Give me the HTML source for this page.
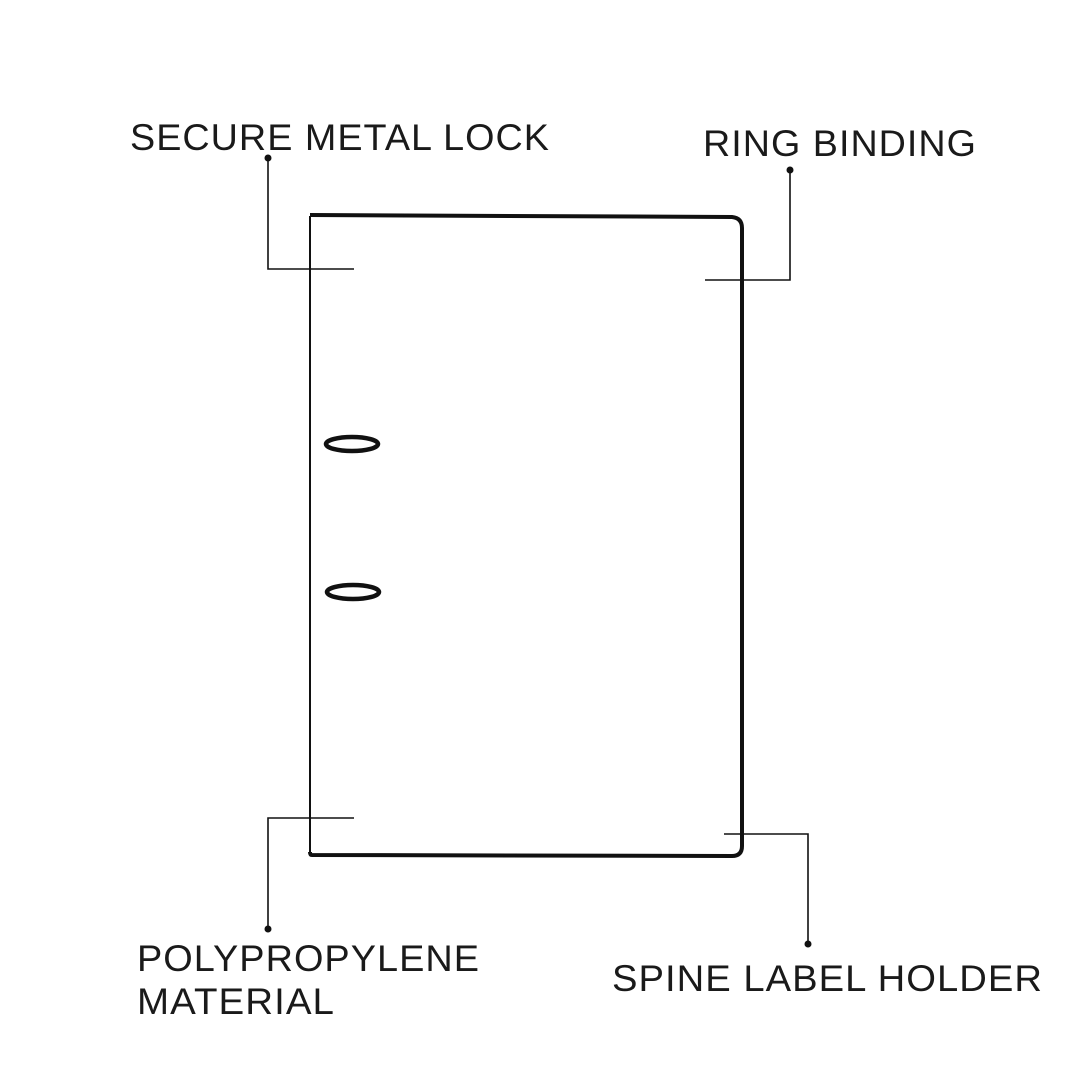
<!DOCTYPE html>
<html><head><meta charset="utf-8"><style>html,body{margin:0;padding:0;background:#fff}svg{display:block}</style></head>
<body>
<svg width="1080" height="1080" viewBox="0 0 1080 1080" xmlns="http://www.w3.org/2000/svg">
<rect width="1080" height="1080" fill="#fff"/>
<g font-family="Liberation Sans, DejaVu Sans, sans-serif" font-size="37" fill="#1a1a1a" letter-spacing="1">
<text x="130" y="150" textLength="420" lengthAdjust="spacingAndGlyphs">SECURE METAL LOCK</text>
<text x="703" y="156" textLength="274" lengthAdjust="spacingAndGlyphs">RING BINDING</text>
<text x="137" y="971" textLength="343" lengthAdjust="spacingAndGlyphs">POLYPROPYLENE</text>
<text x="137" y="1014" textLength="198" lengthAdjust="spacingAndGlyphs">MATERIAL</text>
<text x="612" y="991" textLength="431" lengthAdjust="spacingAndGlyphs">SPINE LABEL HOLDER</text>
</g>
<g stroke="#111" fill="none" stroke-width="1.6">
<polyline points="268,158 268,269 354,269"/>
<polyline points="790,170 790,280 705,280"/>
<polyline points="268,929 268,818 354,818"/>
<polyline points="808,944 808,834 724,834"/>
</g>
<g fill="#111">
<circle cx="268" cy="158" r="3.5"/>
<circle cx="790" cy="170" r="3.5"/>
<circle cx="268" cy="929" r="3.5"/>
<circle cx="808" cy="944" r="3.5"/>
</g>
<line x1="310" y1="216" x2="310" y2="854" stroke="#111" stroke-width="2"/>
<path d="M310,215 L732,217 Q742,218 742,228 L742,846 Q742,856 732,856 L312,855 Q310,855 310,852" fill="none" stroke="#111" stroke-width="4" stroke-linejoin="round"/>
<ellipse cx="352" cy="444" rx="26" ry="7" fill="none" stroke="#111" stroke-width="4.5"/>
<ellipse cx="353" cy="592" rx="26" ry="7" fill="none" stroke="#111" stroke-width="4.5"/>
</svg>
</body></html>
